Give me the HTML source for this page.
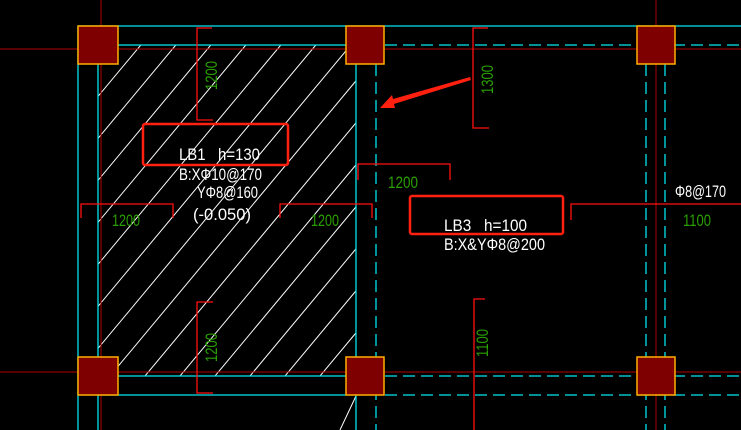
<!DOCTYPE html><html><head><style>html,body{margin:0;padding:0;background:#000;width:741px;height:430px;overflow:hidden}svg{display:block}</style></head><body>
<svg width="741" height="430" viewBox="0 0 741 430" xmlns="http://www.w3.org/2000/svg" font-family="Liberation Sans, sans-serif">
<defs><clipPath id="h"><rect x="98" y="45" width="258" height="331"/></clipPath></defs>
<rect width="741" height="430" fill="#000"/>
<g clip-path="url(#h)" stroke="#fff" stroke-width="1">
<line x1="0" y1="130" x2="300" y2="-230"/>
<line x1="0" y1="172" x2="300" y2="-188"/>
<line x1="0" y1="214" x2="400" y2="-266"/>
<line x1="0" y1="256" x2="400" y2="-224"/>
<line x1="0" y1="298" x2="400" y2="-182"/>
<line x1="0" y1="340" x2="400" y2="-140"/>
<line x1="0" y1="382" x2="400" y2="-98"/>
<line x1="0" y1="424" x2="450" y2="-116"/>
<line x1="0" y1="466" x2="450" y2="-74"/>
<line x1="0" y1="508" x2="500" y2="-92"/>
<line x1="0" y1="550" x2="550" y2="-110"/>
<line x1="0" y1="592" x2="600" y2="-128"/>
<line x1="0" y1="634" x2="600" y2="-86"/>
<line x1="0" y1="676" x2="650" y2="-104"/>
<line x1="0" y1="718" x2="650" y2="-62"/>
<line x1="0" y1="760" x2="700" y2="-80"/>
</g>
<line x1="356" y1="396" x2="340" y2="430" stroke="#fff"/>
<g stroke="#b00000" stroke-width="1">
<line x1="0" y1="49" x2="741" y2="49"/>
<line x1="0" y1="372" x2="741" y2="372"/>
<line x1="101" y1="0" x2="101" y2="430"/>
<line x1="656" y1="0" x2="656" y2="430"/>
</g>
<g stroke="#00e5ee" stroke-width="1.3" fill="none">
<line x1="78" y1="26" x2="741" y2="26"/>
<line x1="98" y1="45" x2="346" y2="45"/>
<line x1="385" y1="45" x2="741" y2="45" stroke-dasharray="12,6"/>
<line x1="78" y1="26" x2="78" y2="430"/>
<line x1="98" y1="45" x2="98" y2="430"/>
<line x1="356" y1="64" x2="356" y2="430"/>
<line x1="376" y1="64" x2="376" y2="430" stroke-dasharray="12,6"/>
<line x1="646" y1="64" x2="646" y2="430" stroke-dasharray="12,6"/>
<line x1="665" y1="64" x2="665" y2="430" stroke-dasharray="12,6"/>
<line x1="98" y1="376" x2="346" y2="376"/>
<line x1="98" y1="395" x2="346" y2="395"/>
<line x1="385" y1="376" x2="741" y2="376" stroke-dasharray="12,6"/>
<line x1="385" y1="395" x2="741" y2="395" stroke-dasharray="12,6"/>
</g>
<g fill="#7f0000" stroke="#ffb000" stroke-width="1.5">
<rect x="78" y="26" width="40" height="38"/>
<rect x="346" y="26" width="38" height="38"/>
<rect x="637" y="26" width="38" height="38"/>
<rect x="78" y="357" width="40" height="38"/>
<rect x="346" y="357" width="38" height="38"/>
<rect x="637" y="357" width="38" height="38"/>
</g>
<g stroke="#ff1010" stroke-width="1.3" fill="none">
<polyline points="212,28 197,28 197,120 213,120"/>
<polyline points="213,302 197,302 197,393 213,393"/>
<polyline points="488,28 473,28 473,128 489,128"/>
<polyline points="485,299 474,299 474,430"/>
<polyline points="81,218 81,204 173,204 173,218"/>
<polyline points="280,218 280,204 372,204 372,218"/>
<polyline points="358,180 358,164 450,164 450,180"/>
<polyline points="571,220 571,204 741,204"/>
</g>
<g fill="#2aa000" font-size="17" lengthAdjust="spacingAndGlyphs">
<text x="112" y="226" textLength="28" lengthAdjust="spacingAndGlyphs">1200</text>
<text x="311" y="226" textLength="28" lengthAdjust="spacingAndGlyphs">1200</text>
<text x="388" y="188" textLength="30" lengthAdjust="spacingAndGlyphs">1200</text>
<text x="683" y="226" textLength="28" lengthAdjust="spacingAndGlyphs">1100</text>
<text transform="translate(217,90) rotate(-90)" textLength="29" lengthAdjust="spacingAndGlyphs">1200</text>
<text transform="translate(217,362) rotate(-90)" textLength="29" lengthAdjust="spacingAndGlyphs">1200</text>
<text transform="translate(493,94) rotate(-90)" textLength="29" lengthAdjust="spacingAndGlyphs">1300</text>
<text transform="translate(488,357) rotate(-90)" textLength="28" lengthAdjust="spacingAndGlyphs">1100</text>
</g>
<rect x="143" y="124" width="145" height="41" rx="2" fill="none" stroke="#ff2010" stroke-width="2.5"/>
<rect x="410" y="196" width="153" height="38" rx="2" fill="none" stroke="#ff2010" stroke-width="2.5"/>
<g fill="#fff" font-size="17">
<text x="179" y="160" textLength="81" lengthAdjust="spacingAndGlyphs">LB1&#160;&#160;&#160;h=130</text>
<text x="179" y="180" textLength="83" lengthAdjust="spacingAndGlyphs">B:XΦ10@170</text>
<text x="197" y="198" textLength="61" lengthAdjust="spacingAndGlyphs">YΦ8@160</text>
<text x="193" y="220" textLength="58" lengthAdjust="spacingAndGlyphs">(-0.050)</text>
<text x="444" y="231" textLength="83" lengthAdjust="spacingAndGlyphs">LB3&#160;&#160;&#160;h=100</text>
<text x="444" y="250" textLength="101" lengthAdjust="spacingAndGlyphs">B:X&amp;YΦ8@200</text>
<text x="675" y="197" textLength="51" lengthAdjust="spacingAndGlyphs">Φ8@170</text>
</g>
<polygon points="470,77 393,99 392,95 380,108 395,108 394,104 471,80" fill="#ff2010"/>
</svg>
</body></html>
